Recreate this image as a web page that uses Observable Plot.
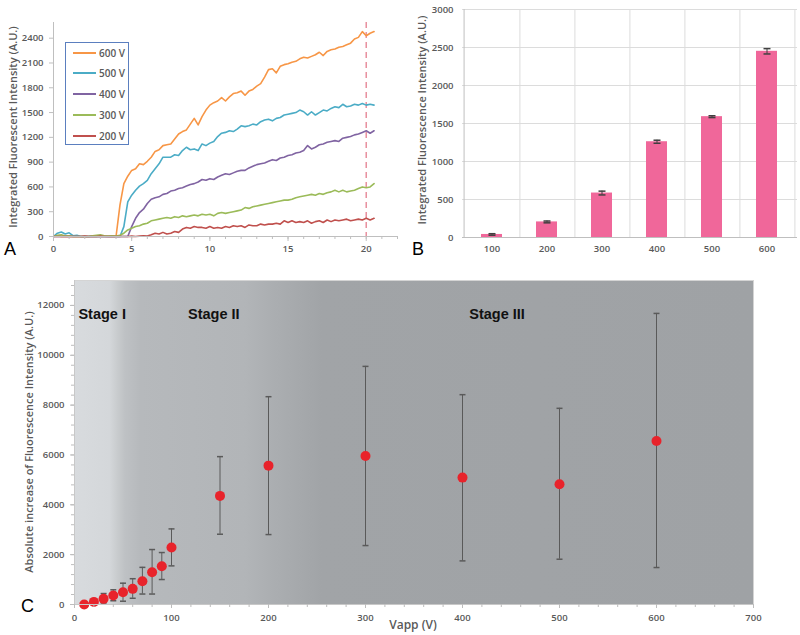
<!DOCTYPE html>
<html><head><meta charset="utf-8">
<script src="https://cdn.jsdelivr.net/npm/d3@7"></script>
<script src="https://cdn.jsdelivr.net/npm/@observablehq/plot@0.6"></script>
<style>
body{margin:0;background:#fff;}
#wrap{position:relative;width:800px;height:635px;overflow:hidden;font-family:"Open Sans",sans-serif;}
.p{position:absolute;}
.rot{position:absolute;transform:translate(-50%,-50%) rotate(-90deg);white-space:nowrap;color:#595959;font-weight:600;}
.lbl{position:absolute;font-family:"Liberation Sans",Arial,sans-serif;font-size:18px;color:#000;line-height:1;}
#legend{position:absolute;left:65px;top:42px;width:64px;height:103px;border:1px solid #5b7fbf;box-sizing:border-box;background:#fff;}
.lrow{position:absolute;left:7px;height:14px;font-size:10px;color:#595959;font-weight:600;display:flex;align-items:center;}
.lrow span.sw{display:inline-block;width:23px;height:2px;margin-right:3px;}
</style>
</head><body>
<div id="wrap">
  <div id="pa" class="p" style="left:0;top:0"></div>
  <div id="pb" class="p" style="left:400px;top:0"></div>
  <div id="pc" class="p" style="left:0;top:265px"></div>
  <div id="legend"></div>
  <div class="rot" style="left:12px;top:127px;font-size:11px">Integrated Fluorescent Intensity (A.U.)</div>
  <div class="rot" style="left:421px;top:120px;font-size:11px">Integrated Fluorescence Intensity (A.U.)</div>
  <div class="rot" style="left:28px;top:442px;font-size:11px">Absolute increase of Fluorescence Intensity (A.U.)</div>
  <div style="position:absolute;left:413px;top:624px;transform:translate(-50%,-50%);font-size:12px;font-weight:600;color:#595959;white-space:nowrap">Vapp (V)</div>
  <div class="lbl" style="left:4px;top:240px">A</div>
  <div class="lbl" style="left:412px;top:240px">B</div>
  <div class="lbl" style="left:21px;top:597px">C</div>
</div>
<script>
// ---------- Panel A data ----------
const timeA = [0,0.25,0.5,0.75,1,1.25,1.5,1.75,2,2.25,2.5,2.75,3,3.25,3.5,3.75,4,4.25,4.5,4.75,5,5.25,5.5,5.75,6,6.25,6.5,6.75,7,7.25,7.5,7.75,8,8.25,8.5,8.75,9,9.25,9.5,9.75,10,10.25,10.5,10.75,11,11.25,11.5,11.75,12,12.25,12.5,12.75,13,13.25,13.5,13.75,14,14.25,14.5,14.75,15,15.25,15.5,15.75,16,16.25,16.5,16.75,17,17.25,17.5,17.75,18,18.25,18.5,18.75,19,19.25,19.5,19.75,20,20.25,20.5];
const v600 = [0,10,0,5,0,0,0,0,0,0,5,0,10,5,0,5,0,380,640,730,800,820,880,870,910,960,1030,1050,1100,1110,1120,1180,1240,1270,1290,1360,1430,1350,1450,1530,1590,1620,1640,1680,1640,1690,1730,1740,1760,1710,1760,1780,1820,1850,1930,2020,2030,1980,2060,2080,2090,2110,2120,2150,2170,2160,2180,2200,2230,2190,2240,2260,2270,2290,2300,2320,2340,2390,2410,2480,2430,2460,2480];
const v500 = [0,40,55,30,45,10,15,0,0,0,5,0,5,0,0,0,0,0,120,420,500,560,610,640,680,760,820,880,960,960,960,990,980,1040,1080,1050,1060,1040,1120,1100,1130,1150,1210,1250,1260,1280,1270,1300,1340,1330,1340,1360,1350,1390,1410,1420,1400,1430,1440,1470,1480,1490,1500,1530,1510,1470,1510,1470,1500,1530,1520,1550,1570,1560,1600,1570,1580,1600,1590,1610,1590,1600,1590];
const v400 = [0,5,0,0,5,0,0,0,0,0,0,0,5,0,0,0,0,0,0,0,120,220,290,330,400,450,470,480,510,520,550,560,580,590,610,630,640,660,690,680,700,690,720,740,760,750,770,790,800,800,830,850,870,880,890,910,930,920,950,960,980,990,1010,1020,1040,1100,1060,1080,1110,1120,1140,1150,1160,1150,1190,1200,1210,1230,1240,1260,1280,1250,1280];
const v300 = [0,15,20,5,10,0,0,0,0,0,10,15,20,10,5,10,5,15,40,80,100,120,130,150,160,190,200,210,220,230,220,240,230,250,240,250,260,250,270,260,270,250,280,290,280,290,300,310,320,350,340,360,370,380,390,400,410,420,430,440,440,450,470,480,490,500,510,500,520,510,530,540,560,540,560,540,550,560,580,600,590,600,640];
const v200 = [0,0,0,0,0,0,0,0,5,0,0,0,5,0,0,0,0,0,0,0,5,0,5,10,5,20,40,30,50,30,40,60,50,90,110,100,120,110,110,100,120,100,110,100,120,110,130,120,130,110,140,130,130,150,140,150,150,160,150,190,170,190,170,180,170,190,160,180,190,170,200,180,200,190,200,210,190,200,210,200,220,200,220];
const seriesNames = ["600 V","500 V","400 V","300 V","200 V"];
const seriesValues = [v600, v500, v400, v300, v200];
const seriesColors = ["#f79646","#4bacc6","#8064a2","#9bbb59","#c0504d"];
const markerTime = [20];
const xTicksA = [0,5,10,15,20];
const xMinorA = [0,1,2,3,4,5,6,7,8,9,10,11,12,13,14,15,16,17,18,19,20,21,22];
const yTicksA = [0,300,600,900,1200,1500,1800,2100,2400];

// ---------- Panel B data ----------
const voltagesB = ["100","200","300","400","500","600"];
const meanB = [40,205,585,1260,1590,2450];
const errB = [10,12,25,20,12,35];
const yTicksB = [0,500,1000,1500,2000,2500,3000];

// ---------- Panel C data ----------
const vappC = [10,20,30,40,50,60,70,80,90,100,150,200,300,400,500,600];
const meanC = [0,105,227,361,494,628,935,1296,1537,2285,4357,5572,5960,5091,4824,6561];
const lowC  = [0,45,60,150,132,250,420,420,1002,1550,2820,2806,2365,1750,1817,1483];
const highC = [0,165,440,590,855,1035,1490,2205,2085,3033,5933,8338,9554,8419,7871,11679];
const xTicksC = [0,100,200,300,400,500,600,700];
const yTicksC = [0,2000,4000,6000,8000,10000,12000];
const stageLabels = ["Stage I","Stage II","Stage III"];
const stageX = [4,117,407];
const stageY = [11650,11650,11650];
const gradientStops = [[0,"#d8dbde"],[36,"#d4d7da"],[44,"#c9ccce"],[52,"#bec1c4"],[68,"#b6b9bc"],[175,"#b2b5b8"],[205,"#abaeb1"],[255,"#a1a4a7"],[700,"#9fa2a5"]];

const fmt = d3.format("d");
const baseStyle = {fontFamily:"'Open Sans', sans-serif", fontSize:"9.5px", fontWeight:600, color:"#595959", background:"transparent", overflow:"visible"};

// ----- Panel A -----
const dataA = [];
seriesNames.forEach((s,i) => seriesValues[i].forEach((v,j) => dataA.push({t: timeA[j], v, s})));
const plotA = Plot.plot({
  width:400, height:260, marginLeft:53, marginRight:3, marginTop:22, marginBottom:24,
  style: baseStyle,
  x:{domain:[0,22]}, y:{domain:[0,2590]},
  color:{domain:seriesNames, range:seriesColors},
  marks:[
    Plot.ruleX(markerTime, {stroke:"#e8909f", strokeWidth:1.5, strokeDasharray:"6,4"}),
    Plot.line(dataA, {x:"t", y:"v", stroke:"s", strokeWidth:1.6}),
    Plot.ruleY([0], {stroke:"#bfbfbf"}),
    Plot.ruleX([0], {stroke:"#bfbfbf"}),
    Plot.axisX({ticks:xMinorA, tickSize:3, tickFormat:()=>"", stroke:"#bfbfbf", label:null}),
    Plot.axisX({ticks:xTicksA, tickSize:5, tickPadding:4, tickFormat:fmt, stroke:"#bfbfbf", label:null}),
    Plot.axisY({ticks:yTicksA, tickSize:4, tickPadding:6, tickFormat:fmt, stroke:"#bfbfbf", label:null})
  ]
});
document.getElementById("pa").append(plotA);

// legend
const leg = document.getElementById("legend");
const legTops = [3,23,44,65,86];
seriesNames.forEach((s,i) => {
  const r = document.createElement("div");
  r.className = "lrow";
  r.style.top = legTops[i] + "px";
  r.innerHTML = `<span class="sw" style="background:${seriesColors[i]}"></span>${s}`;
  leg.append(r);
});

// ----- Panel B -----
const dataB = voltagesB.map((c,i) => ({c, v:meanB[i], lo:meanB[i]-errB[i], hi:meanB[i]+errB[i]}));
const stepB = (400-62-3)/voltagesB.length;
const cap = {draw(ctx, size){ const r = Math.sqrt(size/Math.PI); ctx.moveTo(-r,0); ctx.lineTo(r,0); }};
const plotB = Plot.plot({
  width:400, height:260, marginLeft:62, marginRight:3, marginTop:9, marginBottom:23,
  style: baseStyle,
  x:{domain:voltagesB, paddingInner:0.61, paddingOuter:0.305},
  y:{domain:[0,3000]},
  marks:[
    Plot.ruleY(yTicksB.slice(1), {stroke:"#dcdcdc"}),
    Plot.ruleX(voltagesB, {x:d=>d, dx:stepB/2, stroke:"#dcdcdc"}),
    Plot.ruleX([voltagesB[0]], {x:d=>d, dx:-stepB/2, stroke:"#bfbfbf"}),
    Plot.barY(dataB, {x:"c", y:"v", fill:"#f0679a"}),
    Plot.ruleX(dataB, {x:"c", y1:"lo", y2:"hi", stroke:"#404040"}),
    Plot.dot(dataB, {x:"c", y:"lo", symbol:cap, r:3.5, stroke:"#404040", fill:"none"}),
    Plot.dot(dataB, {x:"c", y:"hi", symbol:cap, r:3.5, stroke:"#404040", fill:"none"}),
    Plot.ruleY([0], {stroke:"#bfbfbf"}),
    Plot.axisX({tickSize:0, tickPadding:8, label:null}),
    Plot.axisY({ticks:yTicksB, tickSize:0, tickPadding:9, tickFormat:fmt, label:null})
  ]
});
document.getElementById("pb").append(plotB);

// ----- Panel C -----
const dataC = vappC.map((x,i) => ({x, m:meanC[i], lo:lowC[i], hi:highC[i]}));
const errC = dataC.filter(d => d.hi > d.lo);
const plotC = Plot.plot({
  width:800, height:370, marginLeft:74, marginRight:47, marginTop:15, marginBottom:31,
  style: baseStyle,
  x:{domain:[0,700]}, y:{domain:[0,13000]},
  marks:[
    Plot.frame({fill:"url(#stageGrad)", stroke:"#d4d4d4"}),
    Plot.ruleX(errC, {x:"x", y1:"lo", y2:"hi", stroke:"#5a5a5a"}),
    Plot.dot(errC, {x:"x", y:"lo", symbol:cap, r:3, stroke:"#5a5a5a", fill:"none"}),
    Plot.dot(errC, {x:"x", y:"hi", symbol:cap, r:3, stroke:"#5a5a5a", fill:"none"}),
    Plot.dot(dataC, {x:"x", y:"m", r:5, fill:"#e8232b", stroke:"none"}),
    Plot.text(stageLabels, {x:(d,i)=>stageX[i], y:(d,i)=>stageY[i], text:d=>d, textAnchor:"start", lineAnchor:"middle", fontFamily:"'Liberation Sans', Arial, sans-serif", fontWeight:"bold", fontSize:14.5, fill:"#111"}),
    Plot.ruleY([0], {stroke:"#c8c8c8"}),
    Plot.ruleX([0], {stroke:"#c8c8c8"}),
    Plot.axisX({ticks:d3.range(0,701,20), tickSize:3, tickFormat:()=>"", stroke:"#bdbdbd", label:null}),
    Plot.axisX({ticks:xTicksC, tickSize:4, tickPadding:6, tickFormat:fmt, stroke:"#bdbdbd", label:null}),
    Plot.axisY({ticks:d3.range(0,12801,400), tickSize:3, tickFormat:()=>"", stroke:"#bdbdbd", label:null}),
    Plot.axisY({ticks:yTicksC, tickSize:4, tickPadding:6, tickFormat:fmt, stroke:"#bdbdbd", label:null})
  ]
});
const ns = "http://www.w3.org/2000/svg";
const defs = document.createElementNS(ns, "defs");
const grad = document.createElementNS(ns, "linearGradient");
grad.setAttribute("id","stageGrad");
grad.setAttribute("x1","0"); grad.setAttribute("x2","1"); grad.setAttribute("y1","0"); grad.setAttribute("y2","0");
gradientStops.forEach(([v,c]) => {
  const st = document.createElementNS(ns, "stop");
  st.setAttribute("offset", (v/700).toString());
  st.setAttribute("stop-color", c);
  grad.append(st);
});
defs.append(grad);
plotC.prepend(defs);
document.getElementById("pc").append(plotC);
</script>
</body></html>
